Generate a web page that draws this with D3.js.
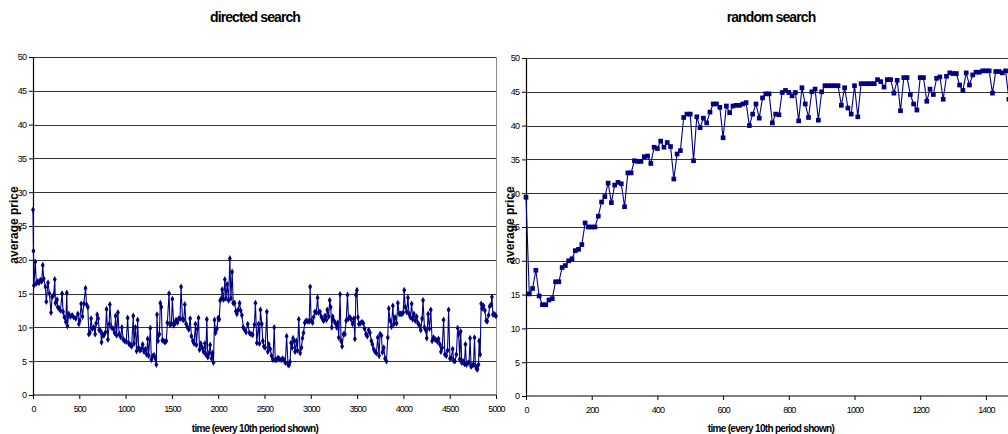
<!DOCTYPE html>
<html>
<head>
<meta charset="utf-8">
<script src="https://cdn.jsdelivr.net/npm/d3@7"></script>
<style>
  body { margin: 0; background: #fff; }
  text { font-family: "Liberation Sans", Arial, sans-serif; }
  .title { font-size: 14px; font-weight: bold; letter-spacing: -0.9px; }
  .tick text { font-size: 9px; letter-spacing: -0.9px; fill: #000; }
  .xlabel { font-size: 10px; font-weight: bold; letter-spacing: -0.7px; }
  .ylabel { font-size: 12px; font-weight: bold; }
</style>
</head>
<body>
<div id="chart"></div>
<script>
var svgWidth = 1008;
var svgHeight = 434;

// directed search: [time, average price]
var directed = [
  [0, 27.4], [5, 21.3], [10, 16.2], [25, 19.7], [36, 16.5], [51, 16.8], [65, 16.6], [79, 17.0],
  [94, 16.8], [105, 19.2], [116, 17.2], [134, 16.0], [144, 13.8], [162, 16.6], [177, 15.0], [195, 12.2],
  [206, 14.5], [224, 14.8], [235, 17.1], [242, 13.6], [260, 14.1], [267, 13.0], [282, 12.8], [296, 12.5],
  [314, 15.0], [325, 12.3], [339, 11.5], [354, 10.8], [365, 15.1], [372, 10.2], [386, 12.0], [404, 11.6],
  [422, 11.8], [440, 11.5], [462, 11.3], [484, 12.0], [495, 10.5], [505, 11.0], [520, 13.5], [534, 11.6],
  [549, 13.5], [567, 15.8], [578, 13.4], [592, 13.0], [603, 9.0], [614, 9.2], [628, 11.3], [639, 9.8],
  [657, 10.0], [671, 9.0], [682, 10.6], [693, 11.9], [704, 11.3], [715, 9.6], [729, 9.5], [740, 7.8],
  [751, 9.0], [765, 8.8], [783, 9.3], [794, 12.7], [809, 8.2], [823, 10.5], [830, 13.4], [848, 10.0],
  [866, 9.8], [881, 9.2], [892, 11.7], [903, 8.8], [917, 12.2], [931, 9.0], [946, 8.6], [960, 10.0],
  [975, 8.2], [989, 8.0], [1007, 7.9], [1022, 11.4], [1036, 7.6], [1050, 7.4], [1065, 7.2], [1083, 11.7],
  [1090, 7.6], [1105, 10.0], [1119, 6.5], [1130, 11.1], [1141, 7.0], [1155, 6.6], [1170, 6.8], [1184, 7.5],
  [1199, 6.4], [1213, 6.8], [1227, 6.0], [1238, 8.3], [1249, 5.8], [1267, 9.9], [1278, 5.2], [1292, 5.7],
  [1307, 5.9], [1321, 5.4], [1332, 4.5], [1339, 11.9], [1350, 8.0], [1365, 9.0], [1375, 13.6], [1386, 13.0],
  [1397, 8.1], [1412, 8.0], [1426, 7.8], [1440, 8.0], [1451, 10.7], [1469, 15.0], [1480, 10.4], [1495, 10.6],
  [1505, 14.2], [1520, 10.3], [1531, 10.6], [1545, 11.1], [1560, 10.7], [1574, 11.3], [1588, 11.3], [1599, 16.0],
  [1614, 11.2], [1628, 11.1], [1639, 13.4], [1653, 10.5], [1668, 10.0], [1682, 9.7], [1697, 11.3], [1711, 8.7],
  [1726, 8.0], [1740, 7.6], [1754, 10.5], [1765, 7.4], [1776, 9.8], [1787, 11.4], [1798, 6.7], [1812, 7.6],
  [1827, 7.0], [1841, 6.4], [1856, 7.6], [1866, 6.0], [1877, 11.2], [1888, 5.6], [1903, 6.2], [1913, 7.4],
  [1928, 5.4], [1939, 6.2], [1949, 4.8], [1960, 11.1], [1971, 9.2], [1986, 9.8], [2000, 11.4], [2011, 11.2],
  [2022, 14.0], [2036, 14.3], [2043, 15.6], [2058, 14.1], [2072, 17.1], [2083, 14.3], [2097, 16.4], [2112, 14.0],
  [2126, 20.2], [2137, 14.3], [2151, 18.2], [2162, 13.6], [2177, 13.6], [2191, 12.4], [2202, 12.0], [2216, 12.6],
  [2231, 13.6], [2242, 12.5], [2256, 11.8], [2271, 10.0], [2282, 9.7], [2300, 9.3], [2319, 10.5], [2337, 9.2],
  [2355, 9.0], [2373, 8.9], [2391, 10.4], [2402, 13.6], [2417, 7.7], [2435, 10.5], [2446, 7.6], [2456, 12.6],
  [2471, 10.5], [2482, 8.0], [2493, 7.2], [2507, 7.0], [2525, 12.3], [2536, 6.4], [2547, 7.5], [2562, 6.8],
  [2576, 5.8], [2591, 5.2], [2605, 10.0], [2616, 5.2], [2631, 5.2], [2645, 5.5], [2663, 5.3], [2681, 5.2],
  [2696, 5.4], [2710, 5.2], [2725, 4.8], [2739, 8.7], [2754, 4.5], [2765, 4.4], [2776, 4.9], [2787, 7.7],
  [2798, 7.0], [2808, 8.4], [2819, 8.0], [2830, 6.4], [2845, 8.0], [2856, 6.6], [2870, 11.2], [2885, 6.2],
  [2899, 7.0], [2910, 8.4], [2921, 9.2], [2935, 10.7], [2950, 11.0], [2968, 10.9], [2983, 10.9], [2993, 16.0],
  [3004, 11.0], [3019, 10.7], [3030, 11.5], [3044, 12.3], [3059, 12.2], [3073, 14.4], [3084, 12.2], [3099, 12.3],
  [3113, 11.6], [3128, 11.2], [3139, 11.0], [3153, 11.7], [3168, 11.1], [3178, 12.6], [3193, 11.6], [3204, 14.0],
  [3215, 13.0], [3226, 10.0], [3236, 11.6], [3251, 11.0], [3266, 10.6], [3280, 10.0], [3291, 10.7], [3302, 8.5],
  [3316, 14.9], [3327, 8.0], [3338, 7.2], [3353, 9.0], [3367, 9.0], [3382, 11.0], [3396, 14.8], [3407, 11.3],
  [3422, 11.5], [3436, 11.2], [3451, 10.5], [3465, 11.3], [3476, 8.3], [3487, 14.8], [3498, 15.5], [3509, 11.5],
  [3519, 10.5], [3534, 10.6], [3552, 10.8], [3567, 10.6], [3581, 9.8], [3596, 9.0], [3610, 8.7], [3625, 9.6],
  [3639, 9.2], [3654, 8.0], [3665, 7.5], [3679, 6.8], [3694, 6.4], [3708, 6.2], [3723, 8.5], [3737, 5.8],
  [3748, 9.0], [3763, 8.8], [3773, 6.3], [3788, 7.0], [3802, 5.4], [3817, 5.0], [3831, 8.5], [3842, 12.8],
  [3857, 11.0], [3871, 10.1], [3886, 13.2], [3897, 10.5], [3911, 11.5], [3926, 10.6], [3940, 13.6], [3955, 12.0],
  [3969, 12.0], [3984, 12.0], [3998, 12.2], [4009, 15.5], [4020, 13.0], [4035, 12.3], [4049, 14.4], [4060, 12.0],
  [4075, 11.5], [4089, 13.5], [4100, 11.2], [4114, 12.0], [4129, 11.0], [4143, 11.6], [4158, 10.6], [4172, 10.3],
  [4187, 9.6], [4202, 11.3], [4212, 14.0], [4227, 10.0], [4241, 9.6], [4252, 8.4], [4267, 12.0], [4281, 9.8],
  [4296, 12.6], [4310, 8.0], [4325, 8.5], [4339, 8.3], [4354, 8.1], [4368, 7.9], [4379, 8.3], [4394, 7.5],
  [4405, 6.4], [4419, 7.0], [4434, 11.1], [4448, 6.0], [4463, 5.8], [4477, 6.6], [4488, 12.6], [4503, 5.4],
  [4517, 5.5], [4532, 6.8], [4543, 5.1], [4557, 5.0], [4572, 6.0], [4586, 9.9], [4597, 9.0], [4608, 5.3],
  [4619, 9.4], [4630, 4.8], [4644, 5.0], [4659, 4.6], [4670, 7.5], [4680, 4.5], [4695, 4.7], [4709, 4.8],
  [4720, 8.4], [4731, 4.2], [4742, 4.4], [4757, 4.5], [4768, 8.5], [4778, 4.3], [4789, 3.9], [4800, 3.8],
  [4811, 4.5], [4818, 8.0], [4829, 6.0], [4840, 13.5], [4851, 12.8], [4865, 13.2], [4880, 12.5], [4894, 11.0],
  [4905, 10.9], [4920, 11.8], [4931, 13.1], [4949, 13.4], [4956, 14.5], [4967, 11.9], [4978, 12.0], [4992, 11.8],
  [5000, 11.7]
];

// random search: one value every 10 periods, starting at 0
var randomStep = 10;
var randomPrice = [
  29.4, 15.1, 15.9, 18.6, 14.8, 13.5, 13.5, 14.2, 14.4, 16.9,
  16.9, 19.0, 19.3, 20.0, 20.3, 21.5, 21.7, 22.4, 25.6, 25.0,
  25.0, 25.0, 26.6, 28.7, 29.5, 31.5, 28.6, 31.2, 31.6, 31.4,
  28.0, 33.0, 33.0, 34.8, 34.7, 34.7, 35.4, 35.5, 34.4, 36.8,
  36.6, 37.7, 36.8, 37.5, 36.9, 32.1, 35.8, 36.3, 41.2, 41.7,
  41.7, 34.8, 41.3, 39.7, 41.1, 40.4, 42.0, 43.2, 43.2, 42.7,
  38.2, 42.9, 41.9, 42.9, 43.0, 43.0, 43.2, 43.4, 40.0, 41.7,
  43.2, 41.1, 44.1, 44.7, 44.7, 40.4, 41.7, 41.6, 44.9, 45.2,
  44.9, 44.4, 44.9, 40.7, 45.6, 43.2, 41.2, 45.0, 45.4, 40.8,
  45.0, 45.9, 45.9, 45.9, 45.9, 45.9, 43.0, 45.6, 42.6, 41.7,
  45.9, 41.3, 46.2, 46.2, 46.2, 46.2, 46.2, 46.8, 46.5, 45.7,
  46.8, 46.8, 44.8, 46.7, 42.2, 47.1, 47.1, 44.6, 43.2, 42.3,
  47.1, 47.1, 43.6, 45.4, 44.6, 47.0, 47.2, 43.9, 47.3, 47.8,
  47.7, 47.7, 46.0, 45.2, 47.8, 46.0, 47.5, 47.9, 47.9, 48.1,
  48.1, 48.1, 44.8, 48.0, 48.0, 47.8, 48.1, 43.9, 48.0
];

var leftTicks = [0, 500, 1000, 1500, 2000, 2500, 3000, 3500, 4000, 4500, 5000];
var rightTicks = [0, 200, 400, 600, 800, 1000, 1200, 1400];
var yTicks = [0, 5, 10, 15, 20, 25, 30, 35, 40, 45, 50];

var lineColor = "#000080";

var svg = d3.select("#chart")
  .append("svg")
  .attr("width", svgWidth)
  .attr("height", svgHeight);

// draw one panel
function drawPanel(opts) {
  var x = d3.scaleLinear().domain(opts.xDomain).range(opts.xRange);
  var y = d3.scaleLinear().domain([0, 50]).range(opts.yRange);
  var g = svg.append("g");

  // horizontal gridlines
  g.selectAll(".grid")
    .data(yTicks.slice(1))
    .enter()
    .append("line")
    .attr("x1", opts.xRange[0])
    .attr("x2", opts.gridEnd)
    .attr("y1", d => Math.round(y(d)) + 0.5)
    .attr("y2", d => Math.round(y(d)) + 0.5)
    .attr("stroke", "#333")
    .attr("stroke-width", 1.2);

  if (opts.border) {
    g.append("line")
      .attr("x1", opts.gridEnd + 0.5).attr("x2", opts.gridEnd + 0.5)
      .attr("y1", opts.yRange[1]).attr("y2", opts.yRange[0])
      .attr("stroke", "#8a8a8a");
  }

  // axes
  var leftAxis = d3.axisLeft(y).tickValues(yTicks).tickSize(4).tickPadding(3);
  var bottomAxis = d3.axisBottom(x).tickValues(opts.ticks).tickSize(4).tickPadding(7)
    .tickFormat(d3.format("d"));

  var ya = g.append("g")
    .attr("transform", `translate(${opts.xRange[0]},0)`)
    .call(leftAxis);
  var xa = g.append("g")
    .attr("transform", `translate(0,${opts.yRange[0]})`)
    .call(bottomAxis);
  [ya, xa].forEach(function(a) {
    a.select(".domain").attr("stroke", "#000").attr("stroke-width", 1.2);
    a.selectAll(".tick line").attr("stroke", "#000");
    a.attr("font-family", null).attr("font-size", null);
  });
  xa.select(".domain").attr("d", `M${opts.xRange[0]},0H${opts.gridEnd}`);

  // series line
  var line = d3.line()
    .x(d => x(d[0]))
    .y(d => y(d[1]));

  g.append("path")
    .datum(opts.data)
    .attr("fill", "none")
    .attr("stroke", lineColor)
    .attr("stroke-width", 1.1)
    .attr("d", line);

  // markers
  var sym = d3.symbol().type(opts.marker).size(opts.markerSize);
  g.selectAll(".pt")
    .data(opts.data)
    .enter()
    .append("path")
    .attr("d", sym)
    .attr("transform", d => `translate(${x(d[0])},${y(d[1])})`)
    .attr("fill", lineColor);

  // titles
  g.append("text")
    .attr("class", "title")
    .attr("x", opts.titleX)
    .attr("y", 22)
    .attr("text-anchor", "middle")
    .text(opts.title);

  g.append("text")
    .attr("class", "xlabel")
    .attr("x", opts.titleX)
    .attr("y", 432)
    .attr("text-anchor", "middle")
    .text("time (every 10th period shown)");

  g.append("text")
    .attr("class", "ylabel")
    .attr("transform", `translate(${opts.yLabelX},225) rotate(-90)`)
    .attr("text-anchor", "middle")
    .text("average price");
}

drawPanel({
  data: directed,
  xDomain: [0, 5000],
  xRange: [33, 496],
  yRange: [395, 57],
  gridEnd: 496,
  border: true,
  ticks: leftTicks,
  marker: d3.symbolDiamond,
  markerSize: 13,
  title: "directed search",
  titleX: 255,
  yLabelX: 18
});

drawPanel({
  data: randomPrice.map((v, i) => [i * randomStep, v]),
  xDomain: [0, 1600],
  xRange: [526, 526 + 1600 * 0.3285],
  yRange: [396, 58],
  gridEnd: 1060,
  border: false,
  ticks: rightTicks,
  marker: d3.symbolSquare,
  markerSize: 22,
  title: "random search",
  titleX: 771,
  yLabelX: 514
});
</script>
</body>
</html>
